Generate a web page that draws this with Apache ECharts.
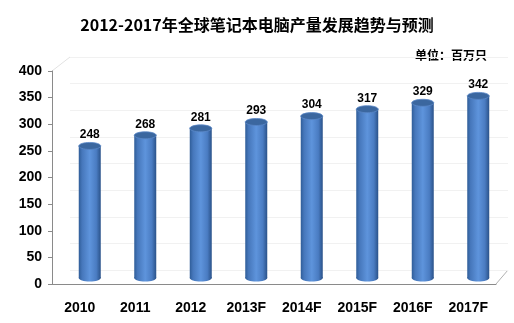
<!DOCTYPE html>
<html><head><meta charset="utf-8">
<script src="https://cdn.jsdelivr.net/npm/echarts@6/dist/echarts.min.js"></script>
<style>html,body{margin:0;padding:0;background:#fff}#c{width:514px;height:323px}</style>
</head><body><div id="c"></div>
<script>
const categories = ['2010','2011','2012','2013F','2014F','2015F','2016F','2017F'];
const values = [248, 268, 281, 293, 304, 317, 329, 342];
const yTicks = [0, 50, 100, 150, 200, 250, 300, 350, 400];
const titleText = '2012-2017年全球笔记本电脑产量发展趋势与预测';
const unitText = '单位：百万只';

const chart = echarts.init(document.getElementById('c'), null, {renderer:'canvas'});
const bodyGrad = new echarts.graphic.LinearGradient(0,0,1,0,[
  {offset:0, color:'#2f5d98'},
  {offset:0.15, color:'#4677bb'},
  {offset:0.5, color:'#5e94dc'},
  {offset:0.8, color:'#4a7cc2'},
  {offset:1, color:'#2a5289'}
]);
const font = '"Liberation Sans", Arial, sans-serif';
chart.setOption({
  animation:false,
  title:{text:titleText, left:'center', top:12,
    textStyle:{fontFamily:'"Noto Sans CJK SC", sans-serif', fontSize:16, fontWeight:'bold', color:'#000'}},
  graphic:[
    {type:'text', left:415, top:49, style:{text:unitText, font:'bold 12px "Noto Sans CJK SC", sans-serif', fill:'#000'}},
    {type:'line', shape:{x1:52,y1:71,x2:70,y2:57}, style:{stroke:'#e2e2e2', lineWidth:1}},
    {type:'line', shape:{x1:496,y1:284,x2:508,y2:270}, style:{stroke:'#b0b0b0', lineWidth:1}}
  ],
  grid:[
    {left:52, right:18, top:71, bottom:39},
    {left:70, right:6, top:57, bottom:53},
    {left:62, right:8, top:65, bottom:45}
  ],
  xAxis:[
    {gridIndex:0, type:'category', data:categories,
      axisLine:{lineStyle:{color:'#8a8a8a'}}, axisTick:{length:5, lineStyle:{color:'#8a8a8a'}},
      axisLabel:{color:'#000', fontWeight:'bold', fontSize:14, fontFamily:font, margin:17}},
    {gridIndex:1, type:'category', data:categories, show:false},
    {gridIndex:2, type:'category', data:categories, show:false}
  ],
  yAxis:[
    {gridIndex:0, type:'value', min:0, max:400, interval:50,
      axisLine:{show:true, lineStyle:{color:'#8a8a8a'}}, axisTick:{show:true, length:4, lineStyle:{color:'#8a8a8a'}},
      splitLine:{show:false},
      axisLabel:{color:'#000', fontWeight:'bold', fontSize:14, fontFamily:font, margin:10,
        customValues: yTicks}},
    {gridIndex:1, type:'value', min:0, max:400, interval:50,
      axisLine:{show:false}, axisTick:{show:false}, axisLabel:{show:false},
      splitLine:{show:true, lineStyle:{color:'#f1f1f1'}}},
    {gridIndex:2, type:'value', min:0, max:400, interval:50, show:false, splitLine:{show:false}}
  ],
  series:[{
    type:'custom', xAxisIndex:2, yAxisIndex:2,
    data: categories.map((c,i)=>[i, values[i]]),
    renderItem:function(params, api){
      const v = api.value(1);
      const top = api.coord([api.value(0), v]);
      const base = api.coord([api.value(0), 0]);
      const w = 22, ry = 3.5;
      return {type:'group', children:[
        {type:'ellipse', shape:{cx:base[0], cy:base[1], rx:w/2, ry:ry}, style:{fill:bodyGrad}},
        {type:'rect', shape:{x:top[0]-w/2, y:top[1], width:w, height:base[1]-top[1]}, style:{fill:bodyGrad}},
        {type:'ellipse', shape:{cx:top[0], cy:top[1], rx:w/2, ry:ry}, style:{fill:'#3b679f', stroke:'#5a88c8', lineWidth:0.8}},
        {type:'text', style:{text:String(v), x:top[0], y:top[1]-5, align:'center', verticalAlign:'bottom',
          font:'bold 12px "Liberation Sans", Arial, sans-serif', fill:'#000'}}
      ]};
    }
  }]
});
</script></body></html>
